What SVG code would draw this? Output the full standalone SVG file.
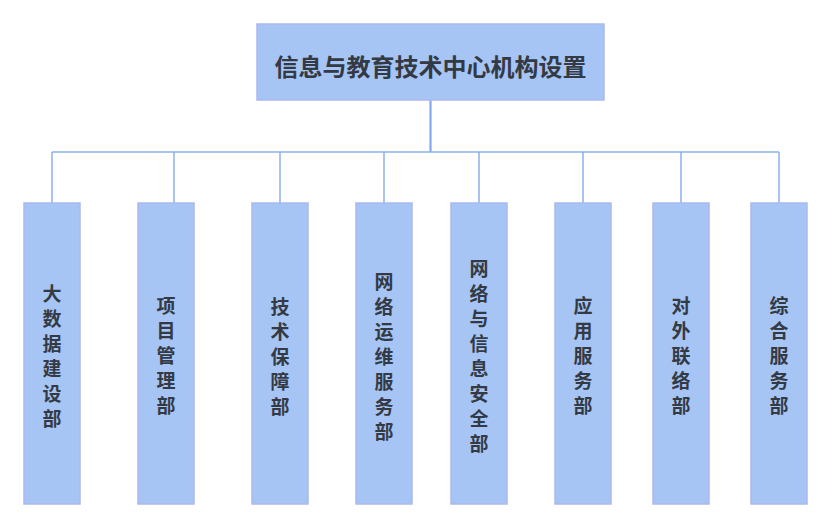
<svg xmlns="http://www.w3.org/2000/svg" width="832" height="529" viewBox="0 0 832 529">
<style>
.box{fill:#a6c4f4;stroke:#aab8ee;stroke-width:1.5}
.t{font-family:"Noto Sans CJK SC","Noto Sans",sans-serif;font-weight:bold;fill:#333a44;text-anchor:middle;dominant-baseline:central}
.title{font-size:24px}
.sub{font-size:19px}
.ln{stroke:#8cb1ea;stroke-width:1.5;fill:none}
</style>
<rect width="832" height="529" fill="#ffffff"/>
<g id="connectors">
<line class="ln" x1="430.5" y1="100" x2="430.5" y2="152" style="stroke-width:2.2;stroke:#82a9e8"/>
<line class="ln" x1="52" y1="152" x2="779" y2="152"/>
<line class="ln" x1="52" y1="152" x2="52" y2="203"/>
<line class="ln" x1="174" y1="152" x2="174" y2="203"/>
<line class="ln" x1="280" y1="152" x2="280" y2="203"/>
<line class="ln" x1="384" y1="152" x2="384" y2="203"/>
<line class="ln" x1="479" y1="152" x2="479" y2="203"/>
<line class="ln" x1="583" y1="152" x2="583" y2="203"/>
<line class="ln" x1="681" y1="152" x2="681" y2="203"/>
<line class="ln" x1="779" y1="152" x2="779" y2="203"/>
</g>
<g id="root">
<rect class="box" x="257" y="24" width="347" height="76"/>
<text class="t title" x="430.5" y="65">信息与教育技术中心机构设置</text>
</g>
<g id="n1">
<rect class="box" x="24" y="203" width="56" height="301"/>
<text class="t sub"><tspan x="52" y="291.5">大</tspan><tspan x="52" dy="25">数</tspan><tspan x="52" dy="25">据</tspan><tspan x="52" dy="25">建</tspan><tspan x="52" dy="25">设</tspan><tspan x="52" dy="25">部</tspan></text>
</g>
<g id="n2">
<rect class="box" x="138" y="203" width="56" height="301"/>
<text class="t sub"><tspan x="166" y="304">项</tspan><tspan x="166" dy="25">目</tspan><tspan x="166" dy="25">管</tspan><tspan x="166" dy="25">理</tspan><tspan x="166" dy="25">部</tspan></text>
</g>
<g id="n3">
<rect class="box" x="252" y="203" width="56" height="301"/>
<text class="t sub"><tspan x="280" y="304.5">技</tspan><tspan x="280" dy="25">术</tspan><tspan x="280" dy="25">保</tspan><tspan x="280" dy="25">障</tspan><tspan x="280" dy="25">部</tspan></text>
</g>
<g id="n4">
<rect class="box" x="356" y="203" width="56" height="301"/>
<text class="t sub"><tspan x="384" y="279.5">网</tspan><tspan x="384" dy="25">络</tspan><tspan x="384" dy="25">运</tspan><tspan x="384" dy="25">维</tspan><tspan x="384" dy="25">服</tspan><tspan x="384" dy="25">务</tspan><tspan x="384" dy="25">部</tspan></text>
</g>
<g id="n5">
<rect class="box" x="451" y="203" width="56" height="301"/>
<text class="t sub"><tspan x="479" y="267">网</tspan><tspan x="479" dy="25">络</tspan><tspan x="479" dy="25">与</tspan><tspan x="479" dy="25">信</tspan><tspan x="479" dy="25">息</tspan><tspan x="479" dy="25">安</tspan><tspan x="479" dy="25">全</tspan><tspan x="479" dy="25">部</tspan></text>
</g>
<g id="n6">
<rect class="box" x="555" y="203" width="56" height="301"/>
<text class="t sub"><tspan x="583" y="304">应</tspan><tspan x="583" dy="25">用</tspan><tspan x="583" dy="25">服</tspan><tspan x="583" dy="25">务</tspan><tspan x="583" dy="25">部</tspan></text>
</g>
<g id="n7">
<rect class="box" x="653" y="203" width="56" height="301"/>
<text class="t sub"><tspan x="681" y="304">对</tspan><tspan x="681" dy="25">外</tspan><tspan x="681" dy="25">联</tspan><tspan x="681" dy="25">络</tspan><tspan x="681" dy="25">部</tspan></text>
</g>
<g id="n8">
<rect class="box" x="751" y="203" width="56" height="301"/>
<text class="t sub"><tspan x="779" y="304">综</tspan><tspan x="779" dy="25">合</tspan><tspan x="779" dy="25">服</tspan><tspan x="779" dy="25">务</tspan><tspan x="779" dy="25">部</tspan></text>
</g>
</svg>
